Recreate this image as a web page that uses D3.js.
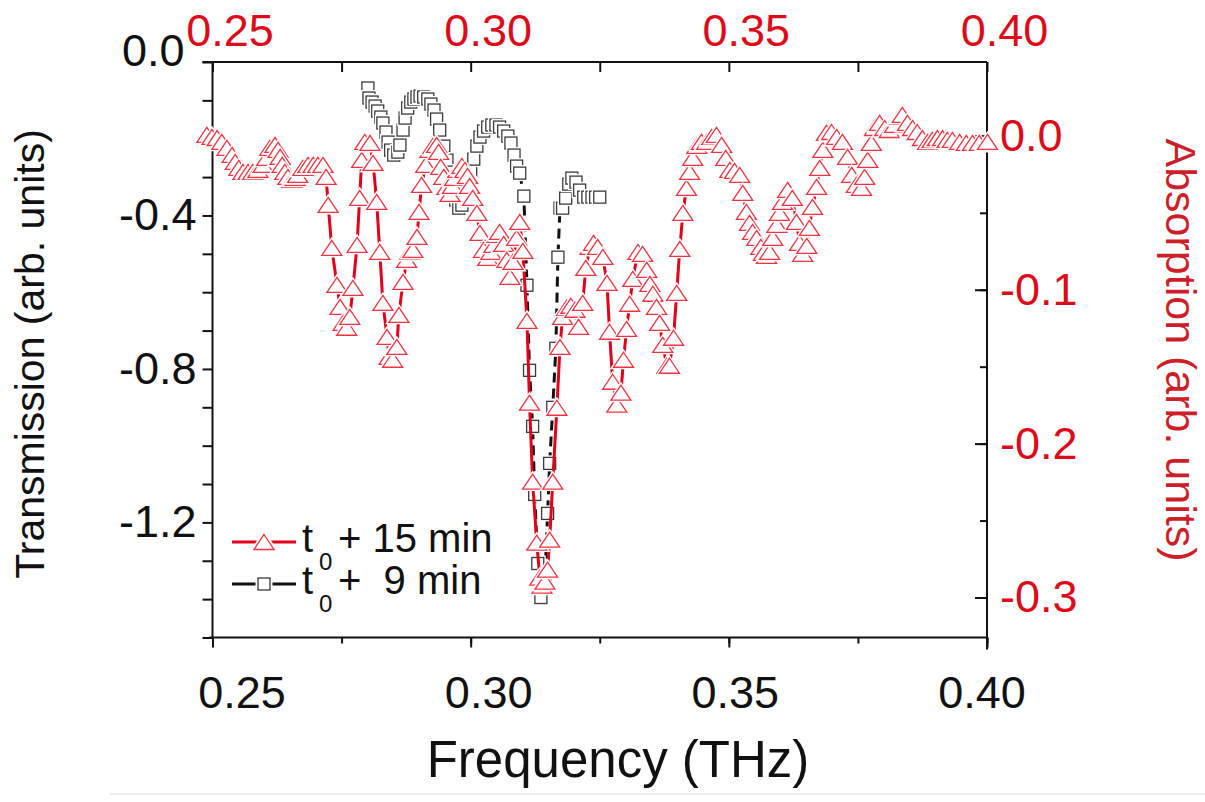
<!DOCTYPE html>
<html>
<head>
<meta charset="utf-8">
<script src="https://cdn.jsdelivr.net/npm/d3@7"></script>
<style>
  body { margin: 0; background: #fff; }
  text { font-family: "Liberation Sans", Arial, Helvetica, sans-serif; }
</style>
</head>
<body>
<div id="chart"></div>
<script>
  // t0 + 15 min : absorption (right axis) vs frequency (top axis)
  let redFreq = [0.2489,0.2499,0.2509,0.2518,0.2528,0.2538,0.2544,0.2551,0.2559,0.2569,
    0.2578,0.2588,0.2598,0.2605,0.2611,0.2621,0.2627,0.2631,0.2635,0.2640,
    0.2646,0.2654,0.2660,0.2665,0.2675,0.2685,0.2695,0.2704,0.2714,0.2720,
    0.2724,0.2731,0.2741,0.2747,0.2753,0.2760,0.2766,0.2772,0.2780,0.2785,
    0.2789,0.2795,0.2805,0.2811,0.2818,0.2824,0.2830,0.2838,0.2842,0.2849,
    0.2857,0.2861,0.2869,0.2876,0.2882,0.2888,0.2896,0.2900,0.2905,0.2913,
    0.2921,0.2927,0.2934,0.2938,0.2942,0.2948,0.2954,0.2960,0.2965,0.2969,
    0.2975,0.2983,0.2989,0.2994,0.2998,0.3004,0.3012,0.3018,0.3025,0.3033,
    0.3039,0.3045,0.3051,0.3056,0.3064,0.3070,0.3076,0.3082,0.3089,0.3095,
    0.3101,0.3109,0.3114,0.3120,0.3128,0.3134,0.3138,0.3144,0.3149,0.3153,
    0.3159,0.3167,0.3173,0.3178,0.3186,0.3194,0.3202,0.3209,0.3217,0.3223,
    0.3231,0.3238,0.3246,0.3256,0.3264,0.3269,0.3275,0.3283,0.3291,0.3296,
    0.3302,0.3308,0.3314,0.3324,0.3333,0.3341,0.3347,0.3353,0.3360,0.3366,
    0.3372,0.3380,0.3385,0.3393,0.3399,0.3405,0.3411,0.3418,0.3424,0.3430,
    0.3438,0.3447,0.3457,0.3467,0.3476,0.3486,0.3494,0.3502,0.3511,0.3521,
    0.3527,0.3534,0.3540,0.3546,0.3554,0.3562,0.3567,0.3573,0.3579,0.3585,
    0.3593,0.3598,0.3604,0.3614,0.3623,0.3631,0.3637,0.3643,0.3651,0.3656,
    0.3662,0.3670,0.3676,0.3682,0.3689,0.3699,0.3709,0.3720,0.3730,0.3738,
    0.3747,0.3757,0.3763,0.3769,0.3776,0.3782,0.3792,0.3802,0.3811,0.3821,
    0.3831,0.3836,0.3846,0.3856,0.3865,0.3875,0.3885,0.3894,0.3904,0.3914,
    0.3923,0.3933,0.3947,0.3960,0.3972,0.3985,0.4001]
  let redAbs = [0.0006,-0.0007,-0.0014,-0.0039,-0.0078,-0.0124,-0.0169,-0.0208,-0.0234,-0.0234,
    -0.0234,-0.0221,-0.0189,-0.0143,-0.0078,-0.0059,-0.0091,-0.0137,-0.0189,-0.0234,
    -0.0267,-0.0286,-0.0273,-0.0254,-0.0208,-0.0189,-0.0189,-0.0189,-0.0189,-0.0267,
    -0.0449,-0.0728,-0.0968,-0.1111,-0.1215,-0.1247,-0.1176,-0.0988,-0.0708,-0.0403,
    -0.0156,-0.0039,-0.0046,-0.0176,-0.0429,-0.0754,-0.1085,-0.1306,-0.1436,-0.1455,
    -0.1371,-0.1163,-0.0949,-0.0806,-0.0754,-0.0741,-0.0656,-0.0494,-0.0319,-0.0189,
    -0.0091,-0.0065,-0.0059,-0.0104,-0.0202,-0.0267,-0.0332,-0.0377,-0.0325,-0.0273,
    -0.0221,-0.0195,-0.0221,-0.0260,-0.0325,-0.0403,-0.0501,-0.0630,-0.0741,-0.0793,
    -0.0754,-0.0708,-0.0643,-0.0624,-0.0702,-0.0806,-0.0916,-0.0819,-0.0663,-0.0559,
    -0.0747,-0.1202,-0.1734,-0.2247,-0.2643,-0.2871,-0.2923,-0.2897,-0.2819,-0.2624,
    -0.2247,-0.1767,-0.1371,-0.1176,-0.1117,-0.1104,-0.1130,-0.1241,-0.1085,-0.0858,
    -0.0721,-0.0695,-0.0721,-0.0786,-0.0955,-0.1273,-0.1598,-0.1747,-0.1669,-0.1455,
    -0.1254,-0.1091,-0.0929,-0.0754,-0.0767,-0.0871,-0.0962,-0.1026,-0.1111,-0.1215,
    -0.1358,-0.1494,-0.1494,-0.1312,-0.1020,-0.0734,-0.0501,-0.0338,-0.0234,-0.0143,
    -0.0065,-0.0039,-0.0039,-0.0007,0.0006,-0.0059,-0.0143,-0.0221,-0.0228,-0.0254,
    -0.0371,-0.0494,-0.0565,-0.0624,-0.0663,-0.0721,-0.0760,-0.0780,-0.0754,-0.0663,
    -0.0578,-0.0501,-0.0429,-0.0351,-0.0403,-0.0559,-0.0695,-0.0767,-0.0715,-0.0598,
    -0.0462,-0.0332,-0.0208,-0.0091,0.0019,0.0025,-0.0007,-0.0039,-0.0137,-0.0254,
    -0.0319,-0.0338,-0.0267,-0.0156,-0.0046,0.0051,0.0084,0.0051,0.0038,0.0071,
    0.0123,0.0136,0.0084,0.0051,0.0025,-0.0014,-0.0039,-0.0026,-0.0014,-0.0014,
    -0.0026,-0.0026,-0.0039,-0.0046,-0.0046,-0.0046,-0.0039]

  // t0 + 9 min : transmission (left axis) vs frequency (bottom axis)
  let blackFreq = [0.2801,0.2803,0.2809,0.2815,0.2820,0.2826,0.2830,0.2836,0.2840,0.2845,
    0.2851,0.2859,0.2863,0.2869,0.2873,0.2878,0.2884,0.2890,0.2896,0.2902,
    0.2909,0.2917,0.2923,0.2929,0.2934,0.2940,0.2948,0.2954,0.2960,0.2965,
    0.2971,0.2977,0.2983,0.2989,0.2994,0.3000,0.3006,0.3012,0.3018,0.3025,
    0.3033,0.3041,0.3049,0.3056,0.3064,0.3072,0.3078,0.3084,0.3089,0.3095,
    0.3103,0.3109,0.3114,0.3120,0.3124,0.3130,0.3136,0.3144,0.3149,0.3153,
    0.3159,0.3165,0.3169,0.3173,0.3178,0.3184,0.3190,0.3196,0.3204,0.3211,
    0.3219,0.3227,0.3235,0.3242,0.3250]
  let blackTrans = [-0.0678,-0.0939,-0.1044,-0.1148,-0.1278,-0.1435,-0.1591,-0.1826,-0.2087,-0.2296,
    -0.2426,-0.2348,-0.2165,-0.1774,-0.1461,-0.1200,-0.1044,-0.0965,-0.0913,-0.0887,
    -0.0913,-0.0965,-0.1096,-0.1252,-0.1487,-0.1774,-0.2192,-0.2557,-0.2870,-0.3209,
    -0.3600,-0.3809,-0.3731,-0.3496,-0.3235,-0.2870,-0.2531,-0.2192,-0.1957,-0.1800,
    -0.1696,-0.1644,-0.1644,-0.1696,-0.1800,-0.1931,-0.2113,-0.2426,-0.2713,-0.2896,
    -0.3496,-0.5818,-0.8036,-0.9497,-1.1271,-1.3071,-1.3958,-1.3384,-1.1766,-1.0462,
    -0.9001,-0.7462,-0.5087,-0.3809,-0.3809,-0.3548,-0.3183,-0.3026,-0.3131,-0.3339,
    -0.3522,-0.3522,-0.3522,-0.3522,-0.3522]

  let freqTicks  = [0.25, 0.30, 0.35, 0.40]
  let transTicks = [0.0, -0.4, -0.8, -1.2]
  let absTicks   = [0.0, -0.1, -0.2, -0.3]

  const W = 1205, H = 802
  const M = { left: 212.5, right: 987, top: 62, bottom: 637.5 }
  const RED = '#e2001a', RED_SYM = '#ef3340', RED_TXT = '#dd0a1a', RED_TITLE = '#cc1f2a'

  let x    = d3.scaleLinear().domain([0.25, 0.40]).range([M.left, M.right]),
      xLab = d3.scaleLinear().domain([0.25, 0.40]).range([242, 982]),
      yT   = d3.scaleLinear().domain([-1.5, 0]).range([M.bottom, M.top]),
      yA   = d3.scaleLinear().domain([-0.326, 0.048]).range([M.bottom, M.top])

  let red   = redFreq.map((f, i) => ({ f: f, v: redAbs[i] })),
      black = blackFreq.map((f, i) => ({ f: f, v: blackTrans[i] }))

  let svg = d3.select('#chart').append('svg')
              .attr('width', W).attr('height', H)

  const isMajor = (list, d) => list.some(t => Math.abs(t - d) < 1e-6)

  function styleAxis(g, color) {
    g.select('.domain').remove()
    g.selectAll('.tick line').attr('stroke', '#111').attr('stroke-width', 2)
    g.selectAll('.tick text').attr('font-size', 45).attr('fill', color)
  }

  // left axis
  svg.append('g').attr('transform', `translate(${M.left},0)`)
    .call(d3.axisLeft(yT).tickValues(d3.range(0, -1.55, -0.1)).tickSize(10).tickPadding(6)
      .tickFormat(d => isMajor(transTicks, d) ? d.toFixed(1) : ''))
    .call(g => styleAxis(g, '#111'))
    .call(g => g.selectAll('.tick text').filter(d => Math.abs(d) < 1e-6)
      .attr('dy', '0.08em').attr('dx', -12))

  // right axis (ticks inward)
  svg.append('g').attr('transform', `translate(${M.right},0)`)
    .call(d3.axisRight(yA).tickValues(d3.range(0, -0.31, -0.05)).tickSize(-7).tickFormat(''))
    .call(g => styleAxis(g, RED_TXT))
  svg.append('g').attr('transform', `translate(${M.right},0)`)
    .call(d3.axisRight(yA).tickValues(absTicks).tickSize(-12).tickPadding(13)
      .tickFormat(d => d.toFixed(1)))
    .call(g => styleAxis(g, RED_TXT))

  // bottom axis
  svg.append('g').attr('transform', `translate(0,${M.bottom})`)
    .call(d3.axisBottom(x).tickValues(d3.range(0.25, 0.401, 0.025)).tickSize(6).tickFormat(''))
    .call(g => styleAxis(g, '#111'))
  svg.append('g').attr('transform', `translate(0,${M.bottom})`)
    .call(d3.axisBottom(x).tickValues(freqTicks).tickSize(10).tickFormat(''))
    .call(g => styleAxis(g, '#111'))
  svg.append('g').selectAll('text').data(freqTicks).join('text')
    .attr('x', d => xLab(d)).attr('y', 708)
    .attr('text-anchor', 'middle').attr('font-size', 45).attr('fill', '#111')
    .text(d => d.toFixed(2))

  // top axis (ticks inward, red labels)
  svg.append('g').attr('transform', `translate(0,${M.top})`)
    .call(d3.axisTop(x).tickValues(d3.range(0.25, 0.401, 0.025)).tickSize(-10).tickPadding(16)
      .tickFormat(d => isMajor(freqTicks, d) ? d.toFixed(2) : ''))
    .call(g => styleAxis(g, RED_TXT))
    .call(g => g.selectAll('.tick text').attr('dx', 17))

  // frame
  let frame = svg.append('g').attr('stroke', '#111').attr('stroke-width', 2)
  frame.append('line').attr('x1', M.left).attr('x2', M.left).attr('y1', M.top).attr('y2', M.bottom)
  frame.append('line').attr('x1', M.left - 3).attr('x2', M.right).attr('y1', M.bottom).attr('y2', M.bottom)
  frame.append('line').attr('x1', M.left - 10).attr('x2', M.right).attr('y1', M.top).attr('y2', M.top)
  frame.append('line').attr('x1', M.right).attr('x2', M.right).attr('y1', M.top).attr('y2', M.bottom + 12)

  // series
  let triPath = 'M0,-7.5L10,7.5L-10,7.5Z'
  let plot = svg.append('g')

  plot.append('path').datum(black)
    .attr('fill', 'none').attr('stroke', '#111').attr('stroke-width', 3)
    .attr('stroke-dasharray', '10,6')
    .attr('d', d3.line().x(d => x(d.f)).y(d => yT(d.v)))

  let sq = plot.append('g').selectAll('g').data(black).join('g')
    .attr('transform', d => `translate(${x(d.f)},${yT(d.v)})`)
  sq.append('rect').attr('x', -6).attr('y', -6).attr('width', 12).attr('height', 12)
    .attr('fill', '#fff').attr('stroke', '#fff').attr('stroke-width', 4)
  sq.append('rect').attr('x', -6).attr('y', -6).attr('width', 12).attr('height', 12)
    .attr('fill', '#fff').attr('stroke', '#3a3a3a').attr('stroke-width', 1.3)

  plot.append('path').datum(red)
    .attr('fill', 'none').attr('stroke', RED).attr('stroke-width', 3)
    .attr('d', d3.line().x(d => x(d.f)).y(d => yA(d.v)))

  let tri = plot.append('g').selectAll('g').data(red).join('g')
    .attr('transform', d => `translate(${x(d.f)},${yA(d.v)})`)
  tri.append('path').attr('d', triPath)
    .attr('fill', '#fff').attr('stroke', '#fff').attr('stroke-width', 4)
  tri.append('path').attr('d', triPath)
    .attr('fill', '#fff').attr('stroke', RED_SYM).attr('stroke-width', 1.3)

  // legend
  let legend = [
    { color: RED, sym: 'tri', base: 552, rest: '+ 15 min' },
    { color: '#111', sym: 'sq', base: 594, rest: '+  9 min' }
  ]
  let lg = svg.append('g').selectAll('g').data(legend).join('g')
  lg.append('line').attr('x1', 232).attr('x2', 296)
    .attr('y1', d => d.base - 10).attr('y2', d => d.base - 10)
    .attr('stroke', d => d.color).attr('stroke-width', 3)
  lg.each(function(d) {
    let g = d3.select(this), cy = d.base - 10
    if (d.sym === 'tri') {
      g.append('path').attr('d', triPath).attr('transform', `translate(264,${cy})`)
        .attr('fill', '#fff').attr('stroke', '#fff').attr('stroke-width', 5)
      g.append('path').attr('d', triPath).attr('transform', `translate(264,${cy})`)
        .attr('fill', '#fff').attr('stroke', RED_SYM).attr('stroke-width', 1.3)
    } else {
      g.append('rect').attr('x', 258).attr('y', cy - 6).attr('width', 12).attr('height', 12)
        .attr('fill', '#fff').attr('stroke', '#fff').attr('stroke-width', 5)
      g.append('rect').attr('x', 258).attr('y', cy - 6).attr('width', 12).attr('height', 12)
        .attr('fill', '#fff').attr('stroke', '#3a3a3a').attr('stroke-width', 1.3)
    }
    let t = g.append('text').attr('font-size', 40).attr('fill', '#111')
              .attr('y', d.base).style('white-space', 'pre')
    t.append('tspan').attr('x', 302).text('t')
    t.append('tspan').attr('x', 319).attr('y', d.base + 18).attr('font-size', 24).text('0')
    t.append('tspan').attr('x', 338).attr('y', d.base).text(d.rest)
  })

  // axis titles
  svg.append('text')
    .attr('transform', 'translate(44,354) rotate(-90)')
    .attr('text-anchor', 'middle').attr('font-size', 41).attr('fill', '#111')
    .text('Transmission (arb. units)')
  svg.append('text')
    .attr('transform', 'translate(1166,350) rotate(90)')
    .attr('text-anchor', 'middle').attr('font-size', 43).attr('fill', RED_TITLE)
    .text('Absorption (arb. units)')
  svg.append('text')
    .attr('x', 618).attr('y', 777)
    .attr('text-anchor', 'middle').attr('font-size', 51).attr('fill', '#111')
    .text('Frequency (THz)')

  // faint page edge under the figure
  svg.append('line').attr('x1', 110).attr('x2', W).attr('y1', 794).attr('y2', 794)
    .attr('stroke', '#e4e4e4').attr('stroke-width', 1.5)
</script>
</body>
</html>
